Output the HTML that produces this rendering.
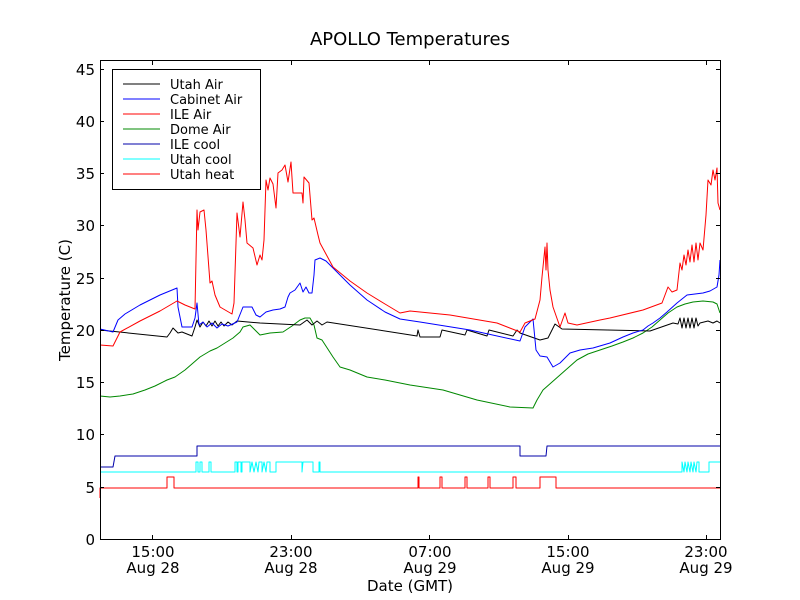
<!DOCTYPE html>
<html><head><meta charset="utf-8"><style>body{margin:0;background:#fff}svg{display:block}text{font-family:"DejaVu Sans","Liberation Sans",sans-serif}</style></head>
<body>
<svg width="800" height="600" viewBox="0 0 800 600" xmlns="http://www.w3.org/2000/svg">
<rect width="800" height="600" fill="#fff"/>
<g fill="none" stroke-width="1" stroke-linejoin="round">
<polyline stroke="#f00" points="100,498 100,488 167,488 167,477 174,477 174,488 418,488 418,477 419,477 419,488 440,488 440,477 442,477 442,488 465,488 465,477 467,477 467,488 488,488 488,477 490,477 490,488 513,488 513,477 516,477 516,488 540,488 540,477 556,477 556,488 720,488"/>
<polyline stroke="#0ff" points="100,472 196,472 196,462 198,462 198,472 200,472 200,462 202,462 202,472 209,472 209,462 211,462 211,472 235,472 235,462 237,462 237,472 238,472 238,462 241,462 241,472 242,472 242,462 250,462 250,472 252,462 254,472 256,462 258,472 259,462 262,462 262,472 264,462 266,472 267,462 270,462 270,472 276,472 276,462 302,462 302,472 303,462 313,462 313,472 319,472 319,462 320,462 320,472 682,472 682,462 684,472 685,462 687,472 688,462 690,472 691,462 693,472 694,462 696,472 697,462 699,462 699,472 709,472 709,462 720,462"/>
<polyline stroke="#00a" points="100,467 113,467 115,456 197,456 197,446 520,446 520,456 546,456 547,446 720,446"/>
<polyline stroke="#080" points="100,396 110,397 120,396 133,394 145,390 155,386 167,380 175,377 185,370 200,357 210,351 217,348 225,343 233,338 240,332 243,327 250,325 255,330 260,335 270,333 283,332 292,326 300,320 305,318 310,318 314,325 317,338 322,340 333,357 340,367 350,370 367,377 385,380 400,383 410,385 443,390 477,400 510,407 533,408 537,400 543,390 560,375 577,360 588,354 600,350 612,346 623,342 633,338 643,333 652,327 660,320 668,313 677,307 685,304 693,302 703,301 713,302 717,304 720,313"/>
<polyline stroke="#000" points="100,330 167,337 170,333 173,328 178,333 182,332 192,336 195,327 197,320 200,327 203,322 206,326 209,321 212,326 215,321 218,326 221,322 224,326 228,322 232,325 237,321 260,323 280,324 300,325 307,320 312,325 317,321 322,325 327,322 417,336 418,330 420,337 440,337 442,330 465,335 467,330 487,336 489,330 513,336 517,330 520,333 540,340 548,338 555,324 562,329 650,331 673,323 678,324 680,318 682,328 684,318 686,328 688,318 690,328 692,318 694,328 696,318 698,326 700,323 708,321 713,323 717,321 720,323"/>
<polyline stroke="#00f" points="100,329 113,332 118,320 125,314 140,305 160,295 177,288 178,307 182,327 192,327 195,318 197,303 199,325 203,322 207,327 212,323 217,328 222,324 228,326 237,322 243,307 252,307 256,315 260,317 266,312 273,310 280,309 285,307 288,297 290,293 295,290 300,283 303,292 306,287 309,293 312,293 314,275 315,260 320,258 326,261 333,268 350,285 367,300 385,312 400,319 420,322 470,330 520,341 525,327 533,319 536,350 540,356 547,357 553,367 560,363 570,353 580,350 593,348 610,343 623,337 633,333 643,330 648,326 653,323 660,318 667,312 677,303 682,299 687,295 695,294 703,293 710,291 717,287 719,275 720,260"/>
<polyline stroke="#f00" points="100,345 113,346 120,332 140,321 160,311 177,301 185,305 195,309 197,210 198,230 200,212 204,210 206,230 210,283 212,281 215,295 220,307 232,314 234,303 237,213 240,237 243,202 245,220 247,243 253,248 257,265 260,255 262,260 264,240 266,180 268,190 270,178 273,184 276,208 278,173 282,170 285,165 288,182 291,162 293,193 302,193 303,203 304,177 309,183 312,220 314,218 318,235 320,243 333,267 350,281 367,293 385,304 400,313 410,311 450,315 497,323 520,332 525,323 535,319 540,300 542,277 545,247 546,270 547,243 548,270 550,290 553,307 560,327 565,313 568,323 577,325 600,320 610,318 643,310 662,303 668,287 672,292 677,290 680,263 682,270 684,255 686,265 688,250 690,262 692,245 694,262 696,243 698,260 700,243 703,250 706,215 708,180 711,185 713,170 715,180 717,168 718,203 720,210"/>
</g>
<rect x="100.5" y="60.5" width="620" height="479" fill="none" stroke="#000" stroke-width="1"/>
<g stroke="#000" stroke-width="1">
<line x1="100" y1="539.5" x2="104" y2="539.5"/><line x1="716" y1="539.5" x2="720" y2="539.5"/>
<line x1="100" y1="487.5" x2="104" y2="487.5"/><line x1="716" y1="487.5" x2="720" y2="487.5"/>
<line x1="100" y1="434.5" x2="104" y2="434.5"/><line x1="716" y1="434.5" x2="720" y2="434.5"/>
<line x1="100" y1="382.5" x2="104" y2="382.5"/><line x1="716" y1="382.5" x2="720" y2="382.5"/>
<line x1="100" y1="330.5" x2="104" y2="330.5"/><line x1="716" y1="330.5" x2="720" y2="330.5"/>
<line x1="100" y1="278.5" x2="104" y2="278.5"/><line x1="716" y1="278.5" x2="720" y2="278.5"/>
<line x1="100" y1="225.5" x2="104" y2="225.5"/><line x1="716" y1="225.5" x2="720" y2="225.5"/>
<line x1="100" y1="173.5" x2="104" y2="173.5"/><line x1="716" y1="173.5" x2="720" y2="173.5"/>
<line x1="100" y1="121.5" x2="104" y2="121.5"/><line x1="716" y1="121.5" x2="720" y2="121.5"/>
<line x1="100" y1="69.5" x2="104" y2="69.5"/><line x1="716" y1="69.5" x2="720" y2="69.5"/>
<line x1="152.5" y1="539" x2="152.5" y2="535"/><line x1="152.5" y1="61" x2="152.5" y2="65"/>
<line x1="291.5" y1="539" x2="291.5" y2="535"/><line x1="291.5" y1="61" x2="291.5" y2="65"/>
<line x1="429.5" y1="539" x2="429.5" y2="535"/><line x1="429.5" y1="61" x2="429.5" y2="65"/>
<line x1="568.5" y1="539" x2="568.5" y2="535"/><line x1="568.5" y1="61" x2="568.5" y2="65"/>
<line x1="706.5" y1="539" x2="706.5" y2="535"/><line x1="706.5" y1="61" x2="706.5" y2="65"/>
</g>
<g font-size="15" text-anchor="end">
<text x="95" y="545">0</text><text x="95" y="493">5</text><text x="95" y="440">10</text><text x="95" y="388">15</text><text x="95" y="336">20</text><text x="95" y="284">25</text><text x="95" y="231">30</text><text x="95" y="179">35</text><text x="95" y="127">40</text><text x="95" y="75">45</text>
</g>
<g font-size="15" text-anchor="middle">
<text x="153" y="557">15:00</text><text x="153" y="573">Aug 28</text>
<text x="291" y="557">23:00</text><text x="291" y="573">Aug 28</text>
<text x="430" y="557">07:00</text><text x="430" y="573">Aug 29</text>
<text x="568" y="557">15:00</text><text x="568" y="573">Aug 29</text>
<text x="706" y="557">23:00</text><text x="706" y="573">Aug 29</text>
<text x="410" y="591">Date (GMT)</text>
<text x="410" y="45" font-size="18">APOLLO Temperatures</text>
<text transform="translate(70,300) rotate(-90)">Temperature (C)</text>
</g>
<rect x="112.5" y="69.5" width="148" height="120" fill="#fff" stroke="#000"/>
<g stroke-width="1">
<line x1="123" y1="84" x2="160" y2="84" stroke="#000"/>
<line x1="123" y1="99" x2="160" y2="99" stroke="#00f"/>
<line x1="123" y1="114" x2="160" y2="114" stroke="#f00"/>
<line x1="123" y1="129" x2="160" y2="129" stroke="#080"/>
<line x1="123" y1="144" x2="160" y2="144" stroke="#00a"/>
<line x1="123" y1="159" x2="160" y2="159" stroke="#0ff"/>
<line x1="123" y1="174" x2="160" y2="174" stroke="#f00"/>
</g>
<g font-size="13">
<text x="170" y="89">Utah Air</text>
<text x="170" y="104">Cabinet Air</text>
<text x="170" y="119">ILE Air</text>
<text x="170" y="134">Dome Air</text>
<text x="170" y="149">ILE cool</text>
<text x="170" y="164">Utah cool</text>
<text x="170" y="179">Utah heat</text>
</g>
</svg>
</body></html>
